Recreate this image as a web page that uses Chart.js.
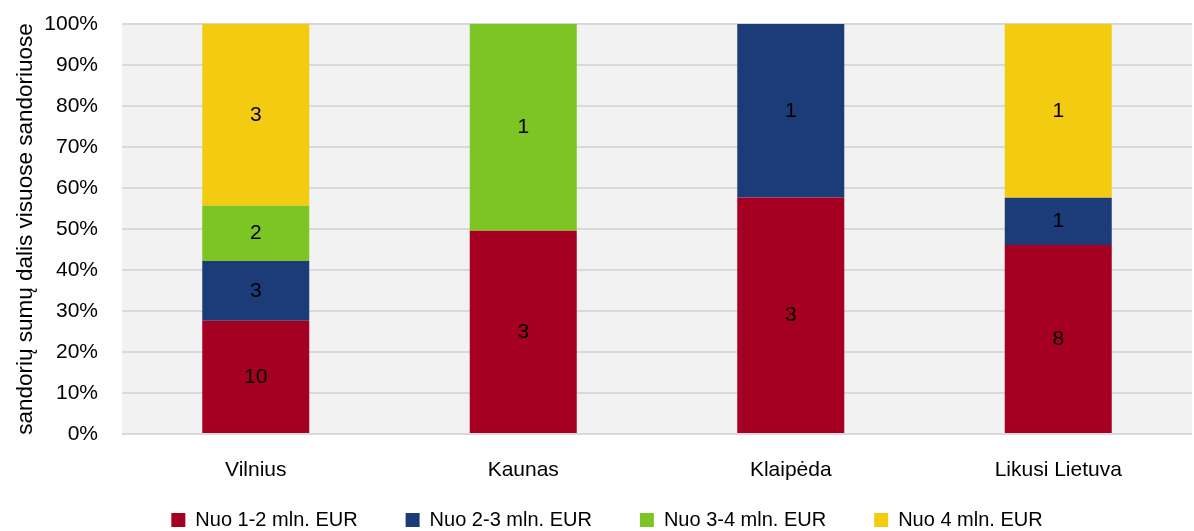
<!DOCTYPE html>
<html>
<head>
<meta charset="utf-8">
<script src="https://cdn.jsdelivr.net/npm/chart.js@4/dist/chart.umd.min.js"></script>
<style>
html,body{margin:0;padding:0;background:#fff;}
#wrap{width:1194px;height:531px;}
</style>
</head>
<body>
<div id="wrap"><canvas id="c" width="1194" height="531"></canvas></div>
<script>
const categories = ['Vilnius', 'Kaunas', 'Klaipėda', 'Likusi Lietuva'];
const seriesNames = ['Nuo 1-2 mln. EUR', 'Nuo 2-3 mln. EUR', 'Nuo 3-4 mln. EUR', 'Nuo 4 mln. EUR'];
// shares of transaction sums (%)
const share12 = [27.6, 49.6, 57.7, 46.1];
const share23 = [14.6, 0, 42.3, 11.5];
const share34 = [13.5, 50.4, 0, 0];
const share4p = [44.3, 0, 0, 42.4];
// number of transactions (labels)
const count12 = [10, 3, 3, 8];
const count23 = [3, null, 1, 1];
const count34 = [2, 1, null, null];
const count4p = [3, null, null, 1];
const yTicks = [0,10,20,30,40,50,60,70,80,90,100];
const yTitle = 'sandorių sumų dalis visuose sandoriuose';

const FONT = "'Liberation Sans Narrow', 'Arial Narrow', 'Liberation Sans', Arial, sans-serif";
const colors = ['#A50021', '#1B3C78', '#7DC524', '#F3CB10'];
const shares = [share12, share23, share34, share4p];
const counts = [count12, count23, count34, count4p];

const bgPlugin = {
  id: 'plotBg',
  beforeDraw(chart) {
    const {ctx, chartArea: a} = chart;
    ctx.save();
    ctx.fillStyle = '#F2F2F2';
    ctx.fillRect(a.left, a.top, a.right - a.left, a.bottom - a.top);
    ctx.restore();
  }
};
const legendFitPlugin = {
  id: 'legendFit',
  beforeLayout(chart) {
    const lg = chart.legend;
    if (lg && !lg._fitPatched) {
      const f = lg.fit;
      lg.fit = function () { f.call(this); this.height = 69; };
      lg._fitPatched = true;
    }
  }
};
const labelPlugin = {
  id: 'segLabels',
  afterDatasetsDraw(chart) {
    const ctx = chart.ctx;
    ctx.save();
    ctx.font = '21px ' + FONT;
    ctx.fillStyle = '#000';
    ctx.textAlign = 'center';
    ctx.textBaseline = 'middle';
    chart.data.datasets.forEach((ds, i) => {
      const meta = chart.getDatasetMeta(i);
      meta.data.forEach((el, j) => {
        const c = ds.counts[j];
        if (c === null || c === undefined) return;
        ctx.fillText(String(c), el.x, (el.y + el.base) / 2);
      });
    });
    ctx.restore();
  }
};

new Chart(document.getElementById('c'), {
  type: 'bar',
  data: {
    labels: categories,
    datasets: seriesNames.map((n, i) => ({
      label: n,
      data: shares[i],
      counts: counts[i],
      backgroundColor: colors[i],
      borderWidth: 0,
      categoryPercentage: 1,
      barPercentage: 0.4
    }))
  },
  options: {
    responsive: false,
    animation: false,
    devicePixelRatio: 1,
    layout: { padding: { left: 22, right: 2, top: 24, bottom: 0 } },
    plugins: {
      legend: {
        position: 'bottom',
        labels: {
          boxWidth: 14, boxHeight: 14, padding: 48,
          color: '#000',
          font: { family: FONT, size: 20 }
        }
      },
      tooltip: { enabled: false }
    },
    scales: {
      x: {
        stacked: true,
        grid: { display: false },
        border: { display: false },
        afterFit(axis) {
          axis.height = 28;
          axis._computeLabelArea = function () { return undefined; };
        },
        ticks: { color: '#000', font: { family: FONT, size: 21 }, padding: 16 }
      },
      y: {
        stacked: true,
        min: 0, max: 100,
        afterBuildTicks(axis) { axis.ticks = yTicks.map(v => ({ value: v })); },
        afterFit(axis) { axis.width = 100; axis.paddingTop = 0; axis.paddingBottom = 0; },
        grid: { color: '#D9D9D9', lineWidth: 2, drawTicks: false },
        border: { display: false },
        ticks: {
          color: '#000', padding: 24,
          font: { family: FONT, size: 21 },
          callback: v => v + '%'
        },
        title: {
          display: true, text: yTitle, color: '#000', padding: { top: -10, bottom: 0 },
          font: { family: FONT, size: 22.5 }
        }
      }
    }
  },
  plugins: [bgPlugin, legendFitPlugin, labelPlugin]
});
</script>
</body>
</html>
